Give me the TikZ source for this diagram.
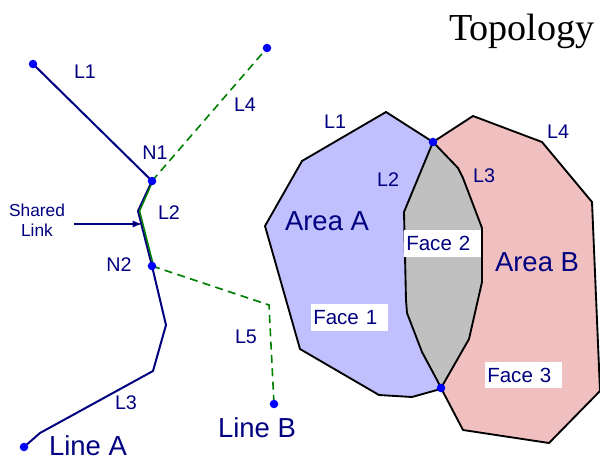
\documentclass[tikz,border=0pt]{standalone}
\usepackage{fontspec}
\setmainfont{Liberation Sans}
\newfontfamily\toposerif{Liberation Serif}
\usetikzlibrary{arrows.meta}
\definecolor{navy}{RGB}{0,0,128}
\definecolor{dotblue}{RGB}{0,0,255}
\definecolor{dgreen}{RGB}{0,128,0}
\definecolor{areaA}{RGB}{192,192,255}
\definecolor{areaB}{RGB}{240,192,192}
\definecolor{faceg}{RGB}{192,192,192}
\begin{document}
\begin{tikzpicture}[x=0.75pt,y=-0.75pt,
  navyline/.style={draw=navy,line width=1.5pt,line join=round},
  greendash/.style={draw=dgreen,line width=1.2pt,dash pattern=on 6pt off 4pt},
  greenline/.style={draw=dgreen,line width=1.1pt},
  polyline/.style={draw=black,line width=1.4pt,line join=round},
  dotnode/.style={circle,fill=dotblue,inner sep=0pt,minimum size=6.4pt},
  lbl/.style={text=navy,font=\fontsize{14.8}{16}\selectfont,inner sep=0pt},
  biglbl/.style={text=navy,font=\fontsize{20.6}{22}\selectfont,inner sep=0pt},
  smalllbl/.style={text=navy,font=\fontsize{13}{15}\selectfont,inner sep=0pt,align=center},
  facebox/.style={fill=white,text=navy,font=\fontsize{15.4}{17}\selectfont,anchor=west,
    inner xsep=1.5pt,inner ysep=0pt,text width=54.5pt,align=left,minimum height=20pt}]
\useasboundingbox (0,0) rectangle (600,461);
\fill[white] (0,0) rectangle (600,461);

% ---------- right: areas ----------
\coordinate (tn) at (433,142);
\coordinate (bn) at (441,388);
\fill[areaA] (tn) -- (386,112) -- (302,161) -- (265,226) -- (300,349) -- (379,395) -- (412,397) -- (437,390) -- (bn)
  -- (437,380) -- (422,352) -- (407,313) -- (406,300) -- (404,212) -- cycle;
\fill[areaB] (tn) -- (473,116) -- (542,142) -- (592,202) -- (600,391) -- (549,443) -- (463,430) -- (bn)
  -- (469,339) -- (482,282) -- (482,228) -- (463,178) -- (458,168) -- cycle;
\fill[faceg] (tn) -- (404,212) -- (406,300) -- (407,313) -- (422,352) -- (437,380) -- (bn)
  -- (469,339) -- (482,282) -- (482,228) -- (463,178) -- (458,168) -- cycle;
\draw[polyline] (tn) -- (386,112) -- (302,161) -- (265,226) -- (300,349) -- (379,395) -- (412,397) -- (437,390) -- (bn);
\draw[polyline] (tn) -- (404,212) -- (406,300) -- (407,313) -- (422,352) -- (437,380) -- (bn);
\draw[polyline] (tn) -- (458,168) -- (463,178) -- (482,228) -- (482,282) -- (469,339) -- (bn);
\draw[polyline] (tn) -- (473,116) -- (542,142) -- (592,202) -- (600,391) -- (549,443) -- (463,430) -- (bn);
\node[dotnode] (tnd) at (tn) {};
\node[dotnode] (bnd) at (bn) {};

\node[lbl] (rL1) at (335,122) {L1};
\node[lbl] (rL4) at (558,132) {L4};
\node[lbl] (rL2) at (388,180) {L2};
\node[lbl] (rL3) at (484,176) {L3};
\node[biglbl] (areaAl) at (327,221) {Area A};
\node[biglbl] (areaBl) at (537,262) {Area B};
\node[facebox] (face1) at (311,317.5) {Face 1};
\node[facebox] (face2) at (404,243.5) {Face 2};
\node[facebox] (face3) at (485,375) {Face 3};

% ---------- left: lines ----------
\coordinate (a1) at (33,64);
\coordinate (a4) at (267,48);
\coordinate (n1) at (152,181);
\coordinate (bend) at (138,211);
\coordinate (n2) at (152,266);
\coordinate (p1) at (166,325);
\coordinate (p2) at (153,371);
\coordinate (p3) at (40,433);
\coordinate (aA) at (24,447);
\coordinate (q1) at (269,305);
\coordinate (bB) at (274,404);

\draw[greendash] (n1) -- (a4);
\draw[greendash] (n2) -- (q1) -- (bB);
\draw[navyline] (a1) -- (n1) -- (bend) -- (n2) -- (p1) -- (p2) -- (p3) -- (aA);
\draw[greenline] ([xshift=0.6pt]n1) -- ([xshift=1.2pt]bend) -- ([xshift=1.2pt]n2);

\node[dotnode] (d1) at (a1) {};
\node[dotnode] (d4) at (a4) {};
\node[dotnode] (dn1) at (n1) {};
\node[dotnode] (dn2) at (n2) {};
\node[dotnode] (dA) at (aA) {};
\node[dotnode] (dB) at (bB) {};

\node[lbl] (lL1) at (85,72) {L1};
\node[lbl] (lL4) at (245,105) {L4};
\node[lbl] (lN1) at (155,153) {N1};
\node[lbl] (lL2) at (169,213) {L2};
\node[lbl] (lN2) at (119,265) {N2};
\node[lbl] (lL5) at (246,337) {L5};
\node[lbl] (lL3) at (126,403) {L3};
\node[biglbl] (lineA) at (88,446) {Line A};
\node[biglbl] (lineB) at (257,428) {Line B};

\node[smalllbl] (shared) at (37,220) {Shared\\Link};
\coordinate (arrS) at (74,224);
\coordinate (arrE) at (142,224);
\draw[draw=navy,line width=1.3pt,-{Latex[length=7pt,width=5.5pt]}] (arrS) -- (arrE);

\node[font=\toposerif\fontsize{28.6}{30}\selectfont,anchor=base east,inner sep=0pt] (topo) at (595,40) {Topology};
\end{tikzpicture}
\end{document}
